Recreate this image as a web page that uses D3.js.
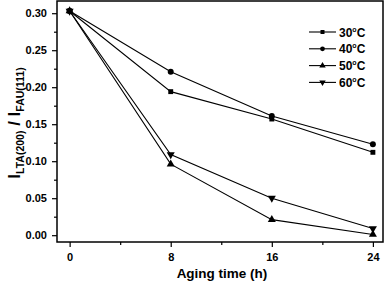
<!DOCTYPE html>
<html lang="en">
  <head>
    <meta charset="UTF-8" />
    <title>LTA / FAU ratio vs aging time</title>
    <script src="https://cdn.jsdelivr.net/npm/d3@7"></script>
    <style>
      body { margin: 0; background: #fff; }
      text { font-family: "Liberation Sans", Arial, sans-serif; font-weight: bold; fill: #000; }
    </style>
  </head>
  <body>
    <div class="chart"></div>
    <script>
    var hours = [0, 8, 16, 24];
    var seriesNames = ["30", "40", "50", "60"];
    var r30 = [0.303, 0.194, 0.157, 0.112];
    var r40 = [0.303, 0.221, 0.161, 0.123];
    var r50 = [0.303, 0.096, 0.021, 0.001];
    var r60 = [0.303, 0.109, 0.050, 0.009];
    var xTicks = [0, 8, 16, 24];
    var yTicks = [0, 0.05, 0.10, 0.15, 0.20, 0.25, 0.30];

    var w = 387, h = 285;
    var plotLeft = 57, plotRight = 383, plotTop = 1, plotBottom = 242;

    var svg = d3.select(".chart").append("svg")
                .attr("width", w)
                .attr("height", h);

    var x = d3.scaleLinear().domain([-1.0, 24.8]).range([plotLeft, plotRight]);
    var y = d3.scaleLinear().domain([-0.0092, 0.3165]).range([plotBottom, plotTop]);

    // frame
    svg.append("rect")
       .attr("x", plotLeft).attr("y", plotTop)
       .attr("width", plotRight - plotLeft).attr("height", plotBottom - plotTop)
       .attr("fill", "none").attr("stroke", "#000").attr("stroke-width", 1.5);

    // x axis
    var xAxis = d3.axisBottom(x).tickValues(xTicks).tickSize(5).tickPadding(6)
                  .tickFormat(d3.format("d"));
    var gx = svg.append("g").attr("transform", "translate(0," + plotBottom + ")").call(xAxis);
    gx.select(".domain").remove();
    gx.selectAll("text").style("font-size", "11px");
    svg.append("g").attr("transform", "translate(0," + plotBottom + ")")
       .call(d3.axisBottom(x).tickValues([4, 12, 20]).tickSize(3).tickFormat(""))
       .select(".domain").remove();

    // y axis
    var yAxis = d3.axisLeft(y).tickValues(yTicks).tickSize(5).tickPadding(5)
                  .tickFormat(d3.format(".2f"));
    var gy = svg.append("g").attr("transform", "translate(" + plotLeft + ",0)").call(yAxis);
    gy.select(".domain").remove();
    gy.selectAll("text").style("font-size", "11px");
    svg.append("g").attr("transform", "translate(" + plotLeft + ",0)")
       .call(d3.axisLeft(y).tickValues([0.025, 0.075, 0.125, 0.175, 0.225, 0.275]).tickSize(3).tickFormat(""))
       .select(".domain").remove();

    svg.selectAll(".tick line").attr("stroke-width", 1.2);

    // axis titles
    svg.append("text")
       .attr("x", (plotLeft + plotRight) / 2 + 2).attr("y", 278)
       .attr("text-anchor", "middle")
       .style("font-size", "13.5px")
       .text("Aging time (h)");

    var ylab = svg.append("text")
       .attr("transform", "translate(20,123) rotate(-90)")
       .attr("text-anchor", "middle")
       .style("font-size", "17px");
    ylab.append("tspan").text("I");
    ylab.append("tspan").attr("dy", 4).style("font-size", "10.5px").text("LTA(200)");
    ylab.append("tspan").attr("dy", -4).text(" / I");
    ylab.append("tspan").attr("dy", 4).style("font-size", "10.5px").text("FAU(111)");

    // series
    var series = [r30, r40, r50, r60];
    var line = d3.line()
                 .x(function(d, i) { return x(hours[i]); })
                 .y(function(d) { return y(d); });

    var symbols = [
      d3.symbol().type(d3.symbolSquare).size(24),
      d3.symbol().type(d3.symbolCircle).size(28),
      d3.symbol().type(d3.symbolTriangle).size(28),
      d3.symbol().type(d3.symbolTriangle).size(28)
    ];
    var legendSymbols = [
      d3.symbol().type(d3.symbolSquare).size(16),
      d3.symbol().type(d3.symbolCircle).size(18),
      d3.symbol().type(d3.symbolTriangle).size(18),
      d3.symbol().type(d3.symbolTriangle).size(18)
    ];
    var rotations = [0, 0, 0, 180];

    series.forEach(function(vals, k) {
      svg.append("path")
         .datum(vals)
         .attr("d", line)
         .attr("fill", "none")
         .attr("stroke", "#000")
         .attr("stroke-width", 1.1);
      svg.selectAll(".pt" + k)
         .data(vals)
         .enter().append("path")
         .attr("class", "pt" + k)
         .attr("d", symbols[k])
         .attr("fill", "#000")
         .attr("transform", function(d, i) {
           return "translate(" + x(hours[i]) + "," + y(d) + ") rotate(" + rotations[k] + ")";
         });
    });

    // legend
    var legend = svg.selectAll("g.legend")
                    .data(seriesNames)
                    .enter().append("g")
                    .attr("class", "legend")
                    .attr("transform", function(d, i) { return "translate(309," + (32 + i * 16.8) + ")"; });

    legend.append("line")
          .attr("x1", 0).attr("x2", 27)
          .attr("stroke", "#000").attr("stroke-width", 1.1);
    legend.append("path")
          .attr("d", function(d, i) { return legendSymbols[i](); })
          .attr("fill", "#000")
          .attr("transform", function(d, i) { return "translate(13.5,0) rotate(" + rotations[i] + ")"; });
    var lt = legend.append("text")
          .attr("x", 30).attr("y", 4.5)
          .style("font-size", "12px");
    lt.append("tspan").text(function(d) { return d; });
    lt.append("tspan").attr("dy", -5).style("font-size", "7px").text("o");
    lt.append("tspan").attr("dy", 5).text("C");
    </script>
  </body>
</html>
